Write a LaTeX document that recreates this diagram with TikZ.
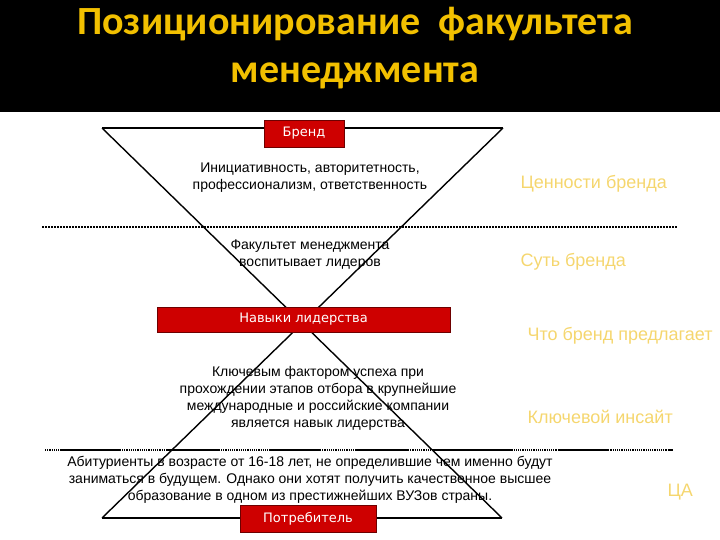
\documentclass[tikz,border=0pt]{standalone}
\usepackage{fontspec}
\setmainfont{Liberation Sans}
\newfontfamily\titlefont{Carlito}
\newfontfamily\boxfont{DejaVu Sans}
\definecolor{titlegold}{RGB}{242,192,0}
\definecolor{palegold}{RGB}{245,214,110}
\definecolor{boxred}{RGB}{206,0,0}
\definecolor{boxedge}{RGB}{110,0,0}
\tikzset{
  redbox/.style={draw=boxedge, fill=boxred, text=white, inner sep=0pt,
    font=\boxfont\fontsize{13}{15}\selectfont},
  bodytext/.style={align=center, font=\fontsize{14}{17}\selectfont},
  sidelabel/.style={anchor=west, text=palegold, font=\fontsize{18}{21}\selectfont},
  titletext/.style={anchor=base, text=titlegold, font=\titlefont\bfseries\fontsize{40}{48}\selectfont},
  edge/.style={line width=1.4pt},
}
\begin{document}
\begin{tikzpicture}[x=1pt, y=-1pt]
    \useasboundingbox (0, 0) rectangle (720, 540);
    \fill[black] (0, 0) rectangle (720, 112);
    \node[titletext] (title1) at (355, 35) {Позиционирование\ \ факультета};
    \node[titletext] (title2) at (355, 83) {менеджмента};
    % hourglass
    \coordinate (tl) at (102, 128);
    \coordinate (tr) at (503, 128);
    \coordinate (bl) at (102, 518);
    \coordinate (br) at (502, 518);
    \draw[edge] (tl) -- (tr);
    \draw[edge] (bl) -- (br);
    \draw[edge] (tl) -- (br);
    \draw[edge] (tr) -- (bl);
    % separators
    \draw[line width=2.5pt, dash pattern=on 2pt off 1pt] (42, 227) -- (677, 227);
    \draw[line width=1.8pt, dash pattern=on 1.2pt off 1pt] (45, 450) -- (673, 450);
    \foreach \a/\b in {60/120, 167/220, 270/320, 355/408, 433/512, 558/608, 668/673}
        \draw[line width=2.6pt] (\a, 450) -- (\b, 450);
    % texts
    \node[bodytext] (values) at (310, 178) {Инициативность, авторитетность,\\профессионализм, ответственность};
    \node[bodytext] (essence) at (310, 255) {Факультет менеджмента\\воспитывает лидеров};
    \node[bodytext] (factor) at (318, 398) {Ключевым фактором успеха при\\прохождении этапов отбора в крупнейшие\\международные и российские компании\\является навык лидерства};
    \node[bodytext] (audience) at (310, 480) {Абитуриенты в возрасте от 16-18 лет, не определившие чем именно будут\\заниматься в будущем. Однако они хотят получить качественное высшее\\образование в одном из престижнейших ВУЗов страны.};
    % boxes
    \node[redbox, minimum width=80pt, minimum height=27pt] (brand) at (304, 133.5) {Бренд};
    \node[redbox, minimum width=293pt, minimum height=25pt] (skills) at (303.5, 319.5) {Навыки лидерства};
    \node[redbox, minimum width=136pt, minimum height=27pt] (consumer) at (308, 518.5) {Потребитель};
    % side labels
    \node[sidelabel] (lvalues) at (517, 184) {Ценности бренда};
    \node[sidelabel] (lessence) at (517, 262) {Суть бренда};
    \node[sidelabel] (loffer) at (524, 336) {Что бренд предлагает};
    \node[sidelabel] (linsight) at (524, 417) {Ключевой инсайт};
    \node[sidelabel] (laudience) at (664, 492) {ЦА};
\end{tikzpicture}
\end{document}
